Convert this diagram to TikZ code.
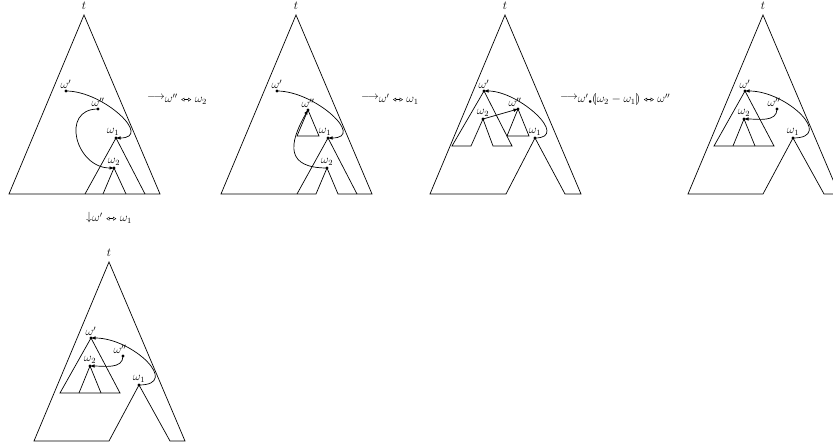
\documentclass[tikz,border=0pt]{standalone}
\usepackage{amsmath}
\usepackage{stmaryrd}
\usetikzlibrary{arrows.meta}
\newcommand\swp{\mathrel{\tikz[baseline=-2.9pt]\draw[line width=0.4pt,{Triangle[open,length=3.2pt,width=3.8pt]}-{Triangle[open,length=3.2pt,width=3.8pt]}] (0pt,0pt) -- (10pt,0pt);}}
\newcommand\myarr[1]{{\fontsize{10.5}{12}\selectfont$#1$}}
\newcommand\mysub[2]{\raisebox{#1}{\fontsize{12}{14}\selectfont$#2$}}
\tikzset{
  tri/.style={line width=0.7pt,line join=miter},
  pt/.style={circle,fill,inner sep=0pt,minimum size=3.4pt},
  lab/.style={font=\fontsize{12}{14}\selectfont,inner sep=0.5pt},
  arr/.style={line width=0.7pt,-{Latex[length=4.5pt,width=3.6pt]}},
  arrlab/.style={anchor=base west,inner sep=0pt},
  finalpanel/.pic={
    \draw[tri] (0,0) -- (-75,-179) -- (0,-179) -- (30,-123) -- (61,-179) -- (76,-179) -- cycle;
    \draw[tri] (-18,-76) -- (-49,-131) -- (11,-131) -- cycle;
    \draw[tri] (-30,-131) -- (-19,-104) -- (-8,-131);
    \node[lab,anchor=base] (-t) at (0,5.7) {$t$};
    \node[pt,label={[lab]above:$\omega'$}] (-a) at (-18,-76) {};
    \node[pt,label={[lab,xshift=-3pt]above:$\omega''$}] (-b) at (14,-94) {};
    \node[pt,label={[lab]above:$\omega_1$}] (-c) at (30,-123) {};
    \node[pt,label={[lab]above:$\omega_2$}] (-d) at (-19,-104) {};
    \draw[arr] (-c.center) to[out=0,in=0,looseness=1.6] (-a.center);
    \draw[arr] (-b.center) to[out=-90,in=0] (-d.center);
  }
}
\begin{document}
\begin{tikzpicture}[x=1pt,y=1pt]
\useasboundingbox (0,0) rectangle (833,444);

% ---- panel 1
\draw[tri] (84,429) -- (9,250) -- (160,250) -- cycle;
\draw[tri] (85,250) -- (116,306) -- (145,250);
\draw[tri] (103,250) -- (114,276) -- (126,250);
\node[lab,anchor=base] (t1) at (84,434.7) {$t$};
\node[pt,label={[lab]above:$\omega'$}] (a1) at (66,353) {};
\node[pt,label={[lab]above:$\omega''$}] (b1) at (98,335) {};
\node[pt,label={[lab,xshift=-3pt]above:$\omega_1$}] (c1) at (116,306) {};
\node[pt,label={[lab]above:$\omega_2$}] (d1) at (114,276) {};
\draw[arr] (a1.center) to[out=0,in=0,looseness=1.4] (c1.center);
\draw[arr] (b1.center) to[out=180,in=180,looseness=1.6] (d1.center);

% ---- panel 2
\draw[tri] (296,429) -- (221,250) -- (316,250) -- (327,276) -- (338,250) -- (372,250) -- cycle;
\draw[tri] (297,250) -- (328,306) -- (357,250);
\draw[tri] (308,334) -- (297,308) -- (319,308) -- cycle;
\node[lab,anchor=base] (t2) at (296,434.7) {$t$};
\node[pt,label={[lab]above:$\omega'$}] (a2) at (277,353) {};
\node[pt,label={[lab]above:$\omega''$}] (b2) at (308,334) {};
\node[pt,label={[lab,xshift=-3pt]above:$\omega_1$}] (c2) at (328,306) {};
\node[pt,label={[lab]above:$\omega_2$}] (d2) at (327,276) {};
\draw[arr] (a2.center) to[out=0,in=0,looseness=1.4] (c2.center);
\draw[arr] (d2.center) to[out=180,in=240,looseness=1.7] (b2.center);

% ---- panel 3
\draw[tri] (505,429) -- (430,250) -- (506,250) -- (535,306) -- (565,250) -- (581,250) -- cycle;
\draw[tri] (484,353) -- (452,298) -- (471,298) -- (483,325) -- (493,298) -- (512,298) -- cycle;
\draw[tri] (518,335) -- (507,308) -- (529,308) -- cycle;
\node[lab,anchor=base] (t3) at (505,434.7) {$t$};
\node[pt,label={[lab]above:$\omega'$}] (a3) at (484,353) {};
\node[pt,label={[lab,xshift=-3pt]above:$\omega''$}] (b3) at (518,335) {};
\node[pt,label={[lab]above:$\omega_1$}] (c3) at (535,306) {};
\node[pt,label={[lab]above:$\omega_2$}] (d3) at (483,325) {};
\draw[arr] (c3.center) to[out=0,in=0,looseness=1.3] (a3.center);
\draw[arr] (d3.center) -- (b3.center);

% ---- panels 4 and 5
\pic (p4) at (763,429) {finalpanel};
\pic (p5) at (109,182) {finalpanel};

% ---- step labels
\node[arrlab] (m1) at (147,344.5) {\myarr{\longrightarrow}\mysub{-3pt}{\omega''\swp\omega_2}};
\node[arrlab] (m2) at (361,344.5) {\myarr{\longrightarrow}\mysub{-3pt}{\omega'\swp\omega_1}};
\node[arrlab] (m3) at (560,344.5) {\myarr{\longrightarrow}\mysub{-3pt}{\omega'\mathord{\raisebox{-1.2pt}{$\scriptscriptstyle\bullet$}}\llparenthesis\omega_2-\omega_1\rrparenthesis\swp\omega''}};
\node[arrlab] (m4) at (86,223.4) {{\fontsize{12.5}{14}\selectfont$\downarrow$}\mysub{-1pt}{\omega'\swp\omega_1}};
\end{tikzpicture}
\end{document}
